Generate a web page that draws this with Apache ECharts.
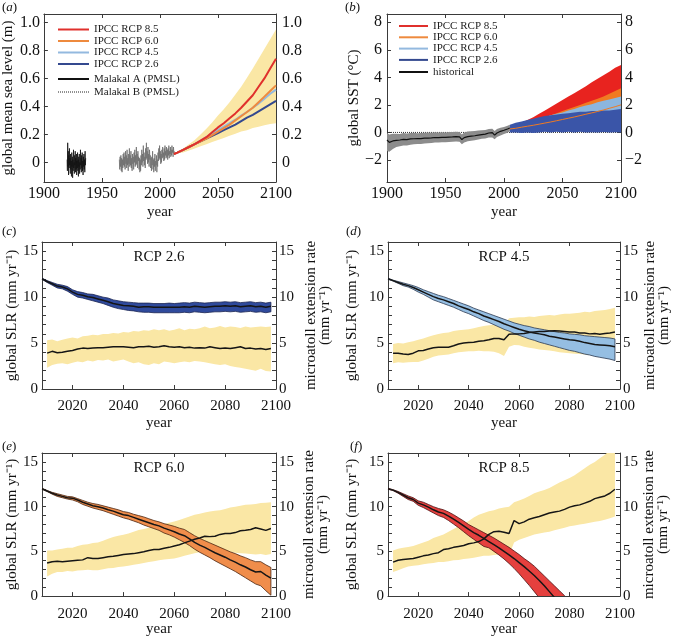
<!DOCTYPE html>
<html><head><meta charset="utf-8">
<script src="https://cdn.jsdelivr.net/npm/echarts@6/dist/echarts.min.js"></script>
<style>html,body{margin:0;padding:0;background:#fff}#c{width:674px;height:638px}</style>
</head><body><div id="c"></div>
<script>
const FONT = 'Liberation Serif';

// ---------- Panel (a): global mean sea level ----------
const aYears = [2012,2015,2020,2025,2030,2035,2040,2045,2050,2055,2060,2065,2070,2075,2080,2085,2090,2095,2100];
const aRcp85 = [0.06,0.07,0.09,0.11,0.13,0.155,0.18,0.215,0.25,0.28,0.315,0.35,0.39,0.435,0.48,0.54,0.60,0.67,0.74];
const aRcp60 = [0.06,0.07,0.09,0.11,0.13,0.15,0.17,0.195,0.22,0.245,0.27,0.30,0.33,0.36,0.39,0.43,0.47,0.51,0.55];
const aRcp45 = [0.06,0.07,0.09,0.11,0.13,0.155,0.18,0.205,0.23,0.255,0.28,0.305,0.335,0.36,0.39,0.42,0.455,0.49,0.52];
const aRcp26 = [0.06,0.07,0.09,0.11,0.13,0.15,0.17,0.19,0.21,0.23,0.25,0.27,0.295,0.32,0.34,0.365,0.39,0.415,0.44];
const aBandHi = [0.06,0.075,0.10,0.13,0.16,0.20,0.24,0.285,0.335,0.38,0.43,0.485,0.54,0.605,0.67,0.74,0.81,0.88,0.95];
const aBandLo = [0.06,0.065,0.07,0.085,0.10,0.115,0.13,0.145,0.16,0.175,0.19,0.205,0.22,0.23,0.245,0.255,0.265,0.275,0.28];
const malakalAStart = 1920, malakalAStep = 0.25;
const malakalA = [0.02,-0.06,0.14,-0.03,0.08,-0.09,0.05,-0.04,0.10,-0.02,0.03,-0.08,0.06,-0.05,0.01,-0.10,0.07,-0.03,0.04,-0.11,
  0.02,-0.06,0.09,-0.04,0.00,-0.08,0.05,-0.02,0.08,-0.07,0.03,-0.05,0.06,-0.09,0.01,-0.04,0.07,-0.06,0.02,-0.10,
  0.04,-0.03,0.06,-0.08,0.00,-0.05,0.09,-0.02,0.03,-0.07,0.05,-0.04,0.07,-0.06,0.01,-0.09,0.04,-0.03,0.06,-0.05,
  0.02,-0.07,0.08,-0.02,0.03];
const malakalBStart = 1965, malakalBStep = 1/3;
const malakalB = [0.02,-0.05,0.04, -0.03,0.05,-0.06, 0.03,-0.07,0.02, -0.04,0.06,-0.02, 0.07,-0.03,0.04,
  -0.05,0.08,-0.01, 0.05,-0.04,0.09, -0.02,0.03,-0.06, 0.06,-0.01,0.10, -0.03,0.05,-0.02,
  0.08,-0.04,0.03, -0.06,0.06,-0.01, 0.04,-0.05,0.07, 0.00,0.09,-0.03, 0.05,-0.02,0.11,
  -0.01,0.06,-0.04, 0.08,0.01,0.04, -0.05,0.03,-0.07, 0.02,-0.06,0.05, -0.02,0.09,0.00,
  0.06,-0.03,0.12, 0.01,0.07,-0.02, 0.04,-0.04,0.10, 0.02,0.14,0.03, 0.08,-0.01,0.11,
  0.00,0.06,-0.03, 0.09,0.02,0.05, -0.04,0.03,-0.06, 0.04,-0.02,0.08, -0.05,0.02,-0.07,
  0.03,-0.03,0.06, -0.06,0.01,-0.02, 0.05,-0.07,0.02, -0.03,0.07,0.01, 0.10,0.03,0.12,
  0.02,0.08,-0.01, 0.06,0.00,0.09, 0.03,0.11,0.04, 0.07,0.01,0.10, 0.02,0.12,0.05,
  0.08,0.03,0.11, 0.04,0.09,0.02, 0.10,0.05,0.12, 0.03,0.08,0.06, 0.11,0.04,0.09,
  0.05,0.12,0.07, 0.09,0.04,0.11, 0.06,0.08];

// ---------- Panel (b): global SST ----------
const bHistYears = [1900,1902,1905,1908,1911,1914,1917,1920,1923,1926,1929,1932,1935,1938,1941,1944,1947,1950,1953,1956,1959,1962,1964,1966,1969,1972,1975,1978,1981,1984,1987,1990,1992,1994,1997,2000,2003,2005];
const bHistMean = [-0.55,-0.72,-0.62,-0.58,-0.55,-0.5,-0.52,-0.47,-0.46,-0.44,-0.45,-0.42,-0.41,-0.4,-0.37,-0.38,-0.36,-0.36,-0.34,-0.33,-0.31,-0.33,-0.52,-0.38,-0.3,-0.27,-0.24,-0.2,-0.16,-0.12,-0.04,-0.02,-0.2,-0.04,0.08,0.16,0.25,0.32];
const bHistHi = [-0.05,-0.15,-0.1,-0.1,-0.12,-0.05,-0.08,-0.05,-0.03,-0.06,-0.04,-0.02,0.0,-0.02,0.02,0.0,0.02,0.0,0.03,0.03,0.05,0.03,-0.15,0.0,0.06,0.08,0.1,0.14,0.16,0.18,0.24,0.26,0.1,0.24,0.34,0.4,0.48,0.55];
const bHistLo = [-1.35,-1.4,-1.2,-1.05,-1.0,-0.95,-0.95,-0.9,-0.86,-0.84,-0.84,-0.8,-0.78,-0.76,-0.74,-0.74,-0.72,-0.72,-0.7,-0.68,-0.66,-0.68,-0.85,-0.74,-0.64,-0.6,-0.56,-0.52,-0.46,-0.44,-0.36,-0.36,-0.5,-0.34,-0.22,-0.12,-0.02,0.08];
const bYears = [2005,2010,2015,2020,2025,2030,2035,2040,2045,2050,2055,2060,2065,2070,2075,2080,2085,2090,2095,2100];
const b85Hi = [0.3,0.5,0.7,0.9,1.1,1.35,1.6,1.85,2.1,2.35,2.6,2.85,3.1,3.35,3.65,3.9,4.15,4.4,4.7,4.9];
const b85Lo = [0.2,0.25,0.3,0.4,0.5,0.6,0.7,0.8,0.9,1.0,1.1,1.2,1.3,1.4,1.5,1.6,1.7,1.8,1.9,2.0];
const b60Hi = [0.3,0.4,0.5,0.65,0.8,0.95,1.1,1.25,1.4,1.55,1.7,1.85,2.0,2.15,2.3,2.45,2.6,2.8,3.0,3.2];
const b60Lo = [0.15,0.2,0.25,0.3,0.35,0.45,0.55,0.6,0.7,0.8,0.9,1.0,1.1,1.2,1.3,1.4,1.5,1.6,1.7,1.8];
const b60Mean = [0.25,0.3,0.38,0.45,0.52,0.6,0.68,0.76,0.85,0.94,1.03,1.12,1.22,1.32,1.42,1.52,1.63,1.75,1.87,2.0];
const b45Hi = [0.35,0.5,0.6,0.75,0.9,1.0,1.1,1.25,1.35,1.45,1.6,1.7,1.85,1.95,2.05,2.2,2.3,2.4,2.5,2.6];
const b45Lo = [0.2,0.25,0.3,0.35,0.45,0.5,0.6,0.65,0.75,0.85,0.9,1.0,1.05,1.1,1.2,1.25,1.3,1.35,1.4,1.45];
const b26Hi = [0.55,0.7,0.8,0.9,1.0,1.1,1.2,1.25,1.3,1.35,1.4,1.45,1.5,1.5,1.55,1.55,1.6,1.6,1.65,1.7];
const b26Lo = [0.0,0.0,-0.05,0.0,-0.05,0.0,0.05,0.0,0.05,0.0,0.05,0.0,0.05,0.0,0.02,0.0,0.03,0.0,0.02,0.0];
const bZeroYears = [1900,2100];
const bZero = [0,0];

// ---------- Panels (c)-(f): SLR vs microatoll extension ----------
const slrYears = [2008,2010,2012,2014,2016,2018,2020,2022,2024,2026,2028,2030,2032,2034,2036,2038,2040,2042,2044,2046,
  2048,2050,2052,2054,2056,2058,2060,2062,2064,2066,2068,2070,2072,2074,2076,2078,2080,2082,2084,2086,
  2088,2090,2092,2094,2096,2098];
const maYears = [2010,2012,2014,2016,2018,2020,2022,2024,2026,2028,2030,2032,2034,2036,2038,2040,2042,2044,2046,2048,
  2050,2052,2054,2056,2058,2060,2062,2064,2066,2068,2070,2072,2074,2076,2078,2080,2082,2084,2086,2088,
  2090,2092,2094,2096,2098];

// (c) RCP 2.6
const cSlrMean = [12.0,11.7,11.45,11.2,11.1,10.9,10.55,10.3,10.2,10.05, 9.95,9.8,9.65,9.5,9.3,9.2,9.1,9.05,9.0,8.9,
  8.95,8.95,8.9,8.9,8.9,8.9,8.9,8.9,8.95,8.9, 9.0,8.95,8.9,8.95,9.0,9.0,9.05,9.0,9.05,8.95, 9.0,9.05,8.95,9.0,8.9,9.0];
const cSlrHi = [12.05,11.8,11.6,11.4,11.3,11.15,10.8,10.6,10.5,10.35, 10.3,10.15,10.0,9.9,9.7,9.6,9.5,9.45,9.4,9.35,
  9.35,9.35,9.3,9.3,9.3,9.35,9.3,9.35,9.4,9.35, 9.45,9.4,9.35,9.4,9.45,9.45,9.5,9.45,9.5,9.4, 9.45,9.5,9.4,9.45,9.35,9.45];
const cSlrLo = [11.95,11.6,11.3,11.0,10.9,10.65,10.3,10.0,9.9,9.75, 9.6,9.45,9.3,9.1,8.9,8.75,8.65,8.55,8.5,8.4,
  8.35,8.35,8.3,8.3,8.3,8.3,8.3,8.3,8.35,8.3, 8.4,8.35,8.3,8.35,8.4,8.4,8.45,8.4,8.45,8.35, 8.4,8.45,8.35,8.4,8.3,8.4];
const cMaMean = [3.9,4.1,3.95,4.0,4.1,4.2,4.35,4.45,4.4,4.45, 4.5,4.5,4.55,4.6,4.6,4.6,4.55,4.5,4.6,4.6,
  4.65,4.55,4.6,4.7,4.6,4.55,4.6,4.5,4.55,4.45, 4.5,4.45,4.6,4.5,4.4,4.45,4.4,4.5,4.6,4.4, 4.45,4.35,4.4,4.3,4.4];
const cMaHi = [5.3,5.4,5.2,5.35,5.5,5.6,5.5,5.75,5.8,5.9, 5.85,6.0,6.0,6.1,6.05,6.2,6.15,6.3,6.25,6.4,
  6.35,6.5,6.4,6.5,6.35,6.45,6.6,6.4,6.55,6.5, 6.6,6.8,6.6,6.7,6.85,6.7,6.8,6.75,6.65,6.8, 6.7,6.75,6.8,6.75,6.8];
const cMaLo = [2.3,2.6,2.75,2.8,2.7,2.85,3.0,2.9,3.1,3.0, 3.15,3.1,3.2,3.0,3.1,3.2,3.0,2.8,2.9,2.7,
  2.6,2.8,2.7,3.0,2.9,2.8,2.9,3.0,2.9,3.05, 3.0,2.9,2.8,2.7,2.6,2.7,2.5,2.4,2.3,2.2, 2.1,2.0,2.2,1.95,1.9];

// (d) RCP 4.5
const dSlrMean = [12.0,11.8,11.6,11.4,11.25,11.05,10.8,10.55,10.3,10.05, 9.85,9.7,9.5,9.3,9.05,8.85,8.65,8.4,8.2,7.95,
  7.75,7.55,7.35,7.1,6.9,6.7,6.5,6.35,6.2,6.1, 6.0,5.9,5.75,5.65,5.55,5.45,5.35,5.3,5.2,5.05, 4.95,4.85,4.8,4.75,4.7,4.6];
const dSlrHi = [12.05,11.85,11.7,11.55,11.4,11.25,11.05,10.8,10.6,10.4, 10.2,10.05,9.85,9.65,9.45,9.25,9.05,8.8,8.6,8.4,
  8.2,8.0,7.8,7.6,7.4,7.2,7.05,6.9,6.8,6.65, 6.55,6.45,6.35,6.25,6.15,6.1,6.0,5.95,5.9,5.8, 5.75,5.7,5.65,5.6,5.55,5.45];
const dSlrLo = [11.95,11.75,11.5,11.25,11.1,10.85,10.55,10.3,10.0,9.7, 9.5,9.3,9.1,8.9,8.65,8.4,8.2,7.95,7.7,7.45,
  7.25,7.0,6.75,6.5,6.3,6.05,5.85,5.65,5.45,5.3, 5.1,4.95,4.8,4.65,4.5,4.35,4.2,4.1,3.95,3.8, 3.7,3.55,3.45,3.35,3.25,3.1];
const dMaMean = [3.9,3.9,3.8,3.75,3.9,4.15,4.2,4.35,4.5,4.55, 4.55,4.55,4.7,4.9,5.0,5.05,5.1,5.2,5.25,5.35,
  5.5,5.5,5.35,5.95,6.0,6.0,6.05,6.15,6.2,6.25, 6.25,6.3,6.35,6.3,6.25,6.2,6.2,6.1,6.1,6.0, 6.05,5.95,6.05,6.1,6.2];
const dMaHi = [4.9,5.0,4.95,5.1,5.2,5.35,5.5,5.7,5.85,6.0, 6.1,6.15,6.3,6.4,6.45,6.5,6.6,6.75,6.85,6.95,
  7.0,7.0,6.95,7.7,7.75,7.8,7.8,7.9,7.85,7.95, 8.0,8.05,8.0,8.1,8.2,8.2,8.25,8.3,8.4,8.35, 8.5,8.55,8.6,8.7,8.85];
const dMaLo = [2.8,2.9,2.85,2.9,2.95,2.95,3.1,3.3,3.5,3.65, 3.7,3.75,3.9,4.0,4.05,4.1,4.1,4.15,4.1,4.1,
  4.05,3.9,3.6,4.6,4.8,4.75,4.6,4.5,4.4,4.3, 4.25,4.2,4.1,4.0,3.95,3.9,3.85,3.8,3.75,3.7, 3.65,3.6,3.55,3.5,3.45];

// (e) RCP 6.0
const eSlrMean = [12.0,11.75,11.5,11.3,11.15,11.0,10.95,10.75,10.5,10.3, 10.1,10.0,9.85,9.65,9.5,9.3,9.1,9.0,8.8,8.6,
  8.4,8.2,8.0,7.85,7.6,7.4,7.2,6.95,6.75,6.4, 6.0,5.7,5.45,5.15,4.85,4.6,4.35,4.05,3.8,3.5, 3.25,2.95,2.7,2.75,2.35,2.0];
const eSlrHi = [12.05,11.8,11.6,11.45,11.3,11.15,11.1,10.9,10.7,10.5, 10.35,10.25,10.1,9.95,9.8,9.65,9.45,9.35,9.15,9.0,
  8.85,8.65,8.45,8.3,8.1,7.95,7.8,7.6,7.45,7.1, 6.75,6.45,6.2,5.95,5.7,5.45,5.2,4.95,4.75,4.5, 4.3,4.05,3.85,3.85,3.5,3.2];
const eSlrLo = [11.95,11.7,11.4,11.15,11.0,10.85,10.75,10.55,10.25,10.05, 9.85,9.7,9.55,9.35,9.15,8.95,8.75,8.6,8.4,8.2,
  7.95,7.75,7.55,7.35,7.05,6.85,6.6,6.3,6.0,5.65, 5.25,4.9,4.6,4.3,3.95,3.65,3.35,3.05,2.75,2.4, 2.05,1.7,1.35,1.15,0.6,0.1];
const eMaMean = [3.7,3.85,3.9,3.85,3.9,3.95,4.0,4.05,4.3,4.2, 4.2,4.3,4.4,4.45,4.55,4.65,4.7,4.75,4.85,4.95,
  5.1,5.2,5.2,5.35,5.45,5.6,5.75,5.95,6.15,6.35, 6.5,6.7,6.65,6.7,6.9,7.0,7.0,7.1,7.3,7.35, 7.45,7.65,7.5,7.35,7.55];
const eMaHi = [5.1,5.1,5.2,5.3,5.4,5.4,5.6,5.75,5.8,5.95, 6.0,6.2,6.4,6.6,6.75,6.85,7.0,7.2,7.4,7.5,
  7.65,7.8,7.9,8.05,8.2,8.35,8.5,8.7,8.9,9.1, 9.2,9.35,9.45,9.55,9.6,9.75,9.9,10.0,10.1,10.2, 10.25,10.3,10.4,10.45,10.5];
const eMaLo = [2.2,2.5,2.7,2.7,2.8,2.75,2.85,2.9,2.95,2.9, 2.9,3.0,3.1,3.15,3.25,3.3,3.4,3.5,3.6,3.7,
  3.8,3.9,4.0,4.1,4.15,4.2,4.35,4.5,4.65,4.8, 4.9,5.0,5.05,5.05,5.1,5.05,4.95,4.85,4.8,4.75, 4.7,4.65,4.7,4.6,4.7];

// (f) RCP 8.5
const fSlrMean = [12.0,11.85,11.6,11.3,11.0,10.8,10.4,10.2,9.95,9.65, 9.4,9.25,8.95,8.6,8.25,7.85,7.45,7.1,6.8,6.45,
  6.1,5.75,5.4,5.0,4.6,4.2,3.75,3.3,2.8,2.3, 1.75,1.15,0.5,-0.15,-0.8,-1.45,-2.1,-2.75,-3.4,-4.05, -4.7,-5.35,-6.0,-6.65,-7.3,-7.95];
const fSlrHi = [12.05,11.9,11.7,11.45,11.2,11.0,10.65,10.5,10.25,10.0, 9.8,9.65,9.4,9.1,8.75,8.4,8.0,7.7,7.4,7.1,
  6.8,6.5,6.15,5.8,5.45,5.05,4.65,4.2,3.8,3.35, 2.8,2.25,1.7,1.15,0.6,0.05,-0.5,-1.05,-1.6,-2.15, -2.7,-3.25,-3.8,-4.35,-4.9,-5.45];
const fSlrLo = [11.95,11.8,11.5,11.15,10.8,10.6,10.15,9.9,9.6,9.3, 9.0,8.8,8.45,8.05,7.65,7.2,6.75,6.35,5.95,5.55,
  5.4,5.0,4.6,4.15,3.65,3.1,2.5,1.85,1.2,0.5, -0.2,-0.9,-1.6,-2.3,-3.0,-3.7,-4.4,-5.1,-5.8,-6.5, -7.2,-7.9,-8.6,-9.3,-10.0,-10.7];
const fMaMean = [3.8,4.0,4.1,4.15,4.2,4.35,4.5,4.6,4.75,4.85, 5.2,5.3,5.45,5.55,5.65,5.85,5.95,6.1,6.4,6.9,
  7.2,7.25,7.15,7.0,8.45,8.1,8.3,8.6,8.75,8.9, 9.1,9.3,9.4,9.5,9.7,9.95,10.1,10.2,10.4,10.6, 10.9,11.05,11.2,11.5,11.95];
const fMaHi = [5.1,5.3,5.4,5.5,5.6,5.8,6.0,6.2,6.5,6.7, 6.9,7.2,7.5,7.8,8.1,8.4,8.8,9.1,9.3,9.5,
  9.6,9.8,9.9,10.0,10.5,10.7,10.9,11.2,11.5,11.7, 11.85,12.1,12.4,12.7,12.95,13.2,13.5,13.9,14.3,14.7, 15.0,15.4,15.8,16.3,16.8];
const fMaLo = [2.7,2.9,3.1,3.3,3.4,3.45,3.55,3.65,3.7,3.8, 3.8,3.9,4.0,4.05,4.15,4.2,4.3,4.4,4.5,4.5,
  4.6,4.65,4.7,4.6,6.0,6.3,6.5,6.7,6.9,7.0, 7.1,7.2,7.35,7.5,7.65,7.8,7.9,8.0,8.1,8.2, 8.3,8.4,8.55,8.7,8.9];

// ---------- tick values / labels ----------
const abXTicks = [1900,1950,2000,2050,2100];
const aYTicks = [0,0.2,0.4,0.6,0.8,1.0];
const bYTicks = [-2,0,2,4,6,8];
const cfXTicks = [2020,2040,2060,2080,2100];
const cfYLabels = [0,5,10,15];
const cfYTicks = [0,1,2,3,4,5,6,7,8,9,10,11,12,13,14,15,16];
const panelTitles = ['RCP 2.6','RCP 4.5','RCP 6.0','RCP 8.5'];

// ---------- colours ----------
const C85 = '#e0302c', C60 = '#ee8a3e', C45 = '#93b9df', C26 = '#34498f';
const YEL = '#fae7a5';
const AX = '#3a3a3a';

const grids = [
  {left:42, top:14, width:234, height:168},
  {left:387, top:14, width:234, height:168},
  {left:42, top:242, width:234, height:147},
  {left:388, top:242, width:232, height:147},
  {left:42, top:453, width:234, height:147},
  {left:388, top:453, width:232, height:147}
];

const nameStyle = {fontSize:15, fontFamily:FONT, color:'#111', verticalAlign:'middle', lineHeight:14};
const fmtYear = v => String(v);
function xAx(gi, pos, min, max, vals, show, margin, nameGap, fs){
  return {gridIndex:gi, type:'value', position:pos, min:min, max:max,
    axisLine:{show:true, onZero:false, lineStyle:{color:AX, width:1}},
    axisTick:{show:true, inside:true, length:4, customValues:vals, lineStyle:{color:AX}},
    axisLabel:{show:show, customValues:vals, margin:margin, fontSize:fs, fontFamily:FONT, color:'#111', formatter:fmtYear},
    splitLine:{show:false},
    name: show ? 'year' : '', nameLocation:'middle', nameGap:nameGap, nameTextStyle:nameStyle};
}
function yAx(gi, pos, min, max, tickVals, labelVals, fmt, margin, fs, name, nameGap){
  return {gridIndex:gi, type:'value', position:pos, min:min, max:max,
    axisLine:{show:true, onZero:false, lineStyle:{color:AX, width:1}},
    axisTick:{show:true, inside:true, length:4, customValues:tickVals, lineStyle:{color:AX}},
    axisLabel:{show:true, customValues:labelVals, margin:margin, fontSize:fs, fontFamily:FONT, color:'#111', formatter:fmt},
    splitLine:{show:false},
    name:name, nameLocation:'middle', nameRotate:90, nameGap:nameGap, nameTextStyle:nameStyle};
}
const fmtA = v => v === 0 ? '0' : v.toFixed(1);
const fmtInt = v => v < 0 ? '\u2212' + Math.abs(v) : String(v);

const xAxes = [], yAxes = [];
// a
xAxes.push(xAx(0,'bottom',1900,2100,abXTicks,true,4,30,16));
xAxes.push(xAx(0,'top',1900,2100,abXTicks,false,4,0,16));
yAxes.push(yAx(0,'left',-0.14,1.06,aYTicks,aYTicks,fmtA,4,16,'global mean sea level (m)',29));
yAxes.push(yAx(0,'right',-0.14,1.06,aYTicks,aYTicks,fmtA,6,16,'',0));
// b
xAxes.push(xAx(1,'bottom',1900,2100,abXTicks,true,4,30,16));
xAxes.push(xAx(1,'top',1900,2100,abXTicks,false,4,0,16));
yAxes.push(yAx(1,'left',-3.6,8.6,bYTicks,bYTicks,fmtInt,5,16,'global SST (\u00b0C)',28));
yAxes.push(yAx(1,'right',-3.6,8.6,bYTicks,bYTicks,fmtInt,4,16,'',0));
// c-f
const leftGaps = [29, 36, 29, 36];
const rightGaps = [42, 37, 40, 35];
const yearGaps = [34, 34, 29, 30];
for (let g = 2; g < 6; g++) {
  xAxes.push(xAx(g,'bottom',2008,2100,cfXTicks,true,10,yearGaps[g-2],15));
  xAxes.push(xAx(g,'top',2008,2100,cfXTicks,false,4,0,15));
  yAxes.push(yAx(g,'left',0,16,cfYTicks,cfYLabels,fmtInt,4,15,'global SLR (mm yr\u207b\u00b9)',leftGaps[g-2]));
  yAxes.push(yAx(g,'right',0,16,cfYTicks,cfYLabels,fmtInt,3,15,'microatoll extension rate\n(mm yr\u207b\u00b9)',rightGaps[g-2]));
}

function band(gi, right, years, lo, hi, fill, stroke, z){
  return {type:'custom', xAxisIndex:2*gi, yAxisIndex:2*gi+(right?1:0), clip:true, silent:true, z:z,
    data: years.map((y,i)=>[y, lo[i], hi[i]]),
    encode:{x:0, y:[1,2]},
    renderItem: function(params, api){
      if (params.dataIndex !== 0) return;
      const pts = [];
      for (let i = 0; i < years.length; i++) pts.push(api.coord([years[i], hi[i]]));
      for (let i = years.length-1; i >= 0; i--) pts.push(api.coord([years[i], lo[i]]));
      return {type:'polygon', shape:{points:pts},
        style:{fill:fill, stroke:stroke || null, lineWidth:stroke ? 0.8 : 0}};
    }};
}
function line(gi, right, name, years, vals, color, width, type, z){
  return {type:'line', name:name, xAxisIndex:2*gi, yAxisIndex:2*gi+(right?1:0),
    data: years.map((y,i)=>[y, vals[i]]), showSymbol:false, symbol:'none', silent:true,
    lineStyle:{color:color, width:width, type:type||'solid'}, itemStyle:{color:color}, z:z};
}
function seq(start, step, vals){ return vals.map((v,i)=>start + i*step); }

const series = [];
// panel a
series.push(band(0,false,aYears,aBandLo,aBandHi,YEL,null,1));
series.push(line(0,false,'Malakal A (PMSL)',seq(malakalAStart,malakalAStep,malakalA),malakalA,'#111',0.8,'solid',3));
series.push(line(0,false,'Malakal B (PMSL)',seq(malakalBStart,malakalBStep,malakalB),malakalB,'#6e6e6e',0.8,'solid',3));
series.push(line(0,false,'IPCC RCP 2.6',aYears,aRcp26,C26,2,'solid',4));
series.push(line(0,false,'IPCC RCP 4.5',aYears,aRcp45,C45,2,'solid',4));
series.push(line(0,false,'IPCC RCP 6.0',aYears,aRcp60,C60,2,'solid',4));
series.push(line(0,false,'IPCC RCP 8.5',aYears,aRcp85,C85,2,'solid',5));
// panel b
series.push(line(1,false,'zero',bZeroYears,bZero,'#333',1,'dotted',1));
series.push(band(1,false,bHistYears,bHistLo,bHistHi,'#8c8c8c',null,2));
series.push(line(1,false,'historical',bHistYears,bHistMean,'#111',1.2,'solid',6));
series.push(band(1,false,bYears,b85Lo,b85Hi,'#e8231f',null,2));
series.push(band(1,false,bYears,b60Lo,b60Hi,'#f07a22',null,3));
series.push(band(1,false,bYears,b45Lo,b45Hi,'#8cb6de',null,4));
series.push(band(1,false,bYears,b26Lo,b26Hi,'#3a55a8',null,5));
series.push(line(1,false,'rcp60 mean',bYears,b60Mean,'#f07a22',1,'solid',6));
// panels c-f
const cf = [
  [cSlrMean,cSlrLo,cSlrHi,cMaMean,cMaLo,cMaHi,'#2f4a9c','#1a2552'],
  [dSlrMean,dSlrLo,dSlrHi,dMaMean,dMaLo,dMaHi,'#95bee2','#2b3850'],
  [eSlrMean,eSlrLo,eSlrHi,eMaMean,eMaLo,eMaHi,'#f08d4b','#4a2410'],
  [fSlrMean,fSlrLo,fSlrHi,fMaMean,fMaLo,fMaHi,'#e5403e','#4a1010']
];
cf.forEach((p, k) => {
  const g = k + 2;
  series.push(band(g,true,maYears,p[4],p[5],YEL,null,1));
  series.push(band(g,false,slrYears,p[1],p[2],p[6],p[7],2));
  series.push(line(g,false,'slr'+g,slrYears,p[0],'#151515',1.5,'solid',3));
  series.push(line(g,true,'ma'+g,maYears,p[3],'#151515',1.5,'solid',4));
});

const legTxt = {fontSize:11, fontFamily:FONT, color:'#222', lineHeight:9};
const legCommon = {orient:'vertical', align:'left', padding:0, textStyle:legTxt, selectedMode:false,
  itemStyle:{opacity:0}, itemHeight:9};
const legends = [
  Object.assign({data:['IPCC RCP 8.5','IPCC RCP 6.0','IPCC RCP 4.5','IPCC RCP 2.6'], left:57, top:24, itemWidth:31, itemGap:0.5}, legCommon),
  Object.assign({data:['Malakal A (PMSL)', {name:'Malakal B (PMSL)', lineStyle:{type:'dotted', color:'#222', width:1}}],
    left:57, top:73.5, itemWidth:31, itemGap:2}, legCommon),
  Object.assign({data:['IPCC RCP 8.5','IPCC RCP 6.0','IPCC RCP 4.5','IPCC RCP 2.6'], left:398, top:20.5, itemWidth:29, itemGap:0.3}, legCommon),
  Object.assign({data:['historical'], left:398, top:66.5, itemWidth:29, itemGap:0}, legCommon)
];

const lab = (txt, x, y) => ({type:'text', x:x, y:y, z:100, style:{text:'({i|'+txt+'})', fontSize:13, fontFamily:FONT, fill:'#111',
  rich:{i:{fontStyle:'italic', fontSize:13, fontFamily:FONT, fill:'#111'}}}});
const ttl = (txt, gi) => ({type:'text', x:grids[gi].left + grids[gi].width/2, y:grids[gi].top + 15, z:100,
  style:{text:txt, fontSize:15, fontFamily:FONT, fill:'#111', align:'center', verticalAlign:'middle'}});
const graphic = [lab('a',2,1), lab('b',345,1), lab('c',2,225), lab('d',346,225), lab('e',2,440), lab('f',350,440),
  ttl(panelTitles[0],2), ttl(panelTitles[1],3), ttl(panelTitles[2],4), ttl(panelTitles[3],5)];

const chart = echarts.init(document.getElementById('c'), null, {renderer:'canvas'});
chart.setOption({
  backgroundColor:'#fff', animation:false,
  grid: grids, xAxis: xAxes, yAxis: yAxes, series: series, legend: legends, graphic: graphic,
  tooltip:{show:false}
});
</script></body></html>
